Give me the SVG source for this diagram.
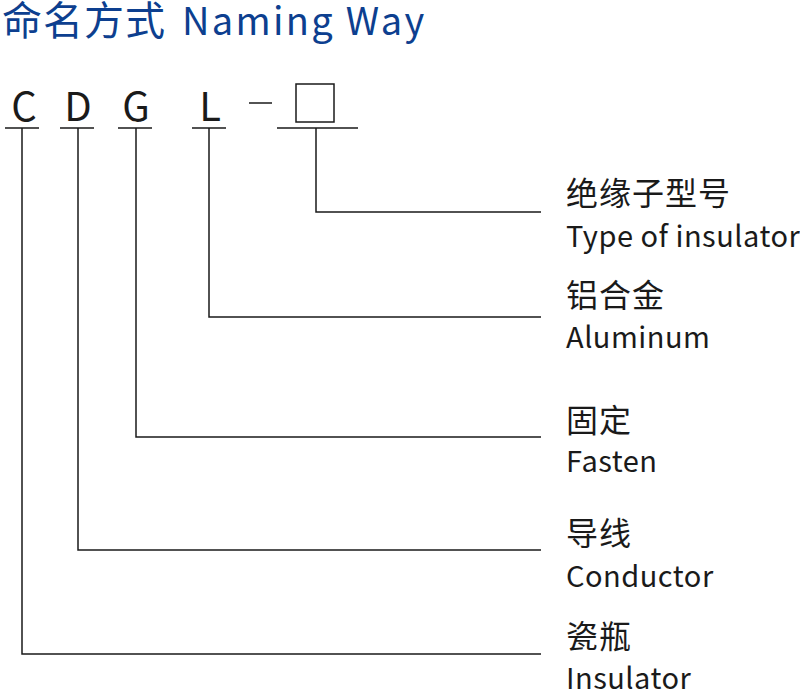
<svg xmlns="http://www.w3.org/2000/svg" width="800" height="690" viewBox="0 0 800 690">
<style>
.t{font-family:"Noto Sans CJK SC","Noto Sans",sans-serif;fill:#1a1a1a}
.title{font-family:"Noto Sans CJK SC","Noto Sans",sans-serif;fill:#0d3f8f}
.l{font-size:40px}
.zh{font-size:32px;letter-spacing:1px}
.en{font-size:29px;letter-spacing:0.5px}
.ln{stroke:#1a1a1a;stroke-width:1.5;fill:none}
</style>
<rect width="800" height="690" fill="#fff"/>
<text class="title" x="2" y="35"><tspan font-size="40" letter-spacing="1">命名方式</tspan><tspan x="182" font-size="38" letter-spacing="2.3">Naming Way</tspan></text>
<g id="code">
<text class="t l" x="24" y="121" text-anchor="middle">C</text>
<text class="t l" x="78" y="121" text-anchor="middle">D</text>
<text class="t l" x="136" y="121" text-anchor="middle">G</text>
<text class="t l" x="210" y="121" text-anchor="middle">L</text>
<line class="ln" x1="249" y1="103" x2="272" y2="103"/>
<rect class="ln" x="296" y="84" width="38" height="38"/>
</g>
<g id="connectors">
<path class="ln" d="M5 128H39M60 128H94M118 128H152M192 128H226M277 128H358"/>
<path class="ln" d="M316 128V212H541"/>
<path class="ln" d="M209 128V317H541"/>
<path class="ln" d="M136 128V437H541"/>
<path class="ln" d="M78 128V550H541"/>
<path class="ln" d="M22 128V654H541"/>
</g>
<g id="n-type">
<text class="t zh" x="566" y="205">绝缘子型号</text>
<text class="t en" x="566" y="247">Type of insulator</text>
</g>
<g id="n-al">
<text class="t zh" x="566" y="307">铝合金</text>
<text class="t en" x="566" y="348">Aluminum</text>
</g>
<g id="n-fasten">
<text class="t zh" x="566" y="432">固定</text>
<text class="t en" x="566" y="472">Fasten</text>
</g>
<g id="n-cond">
<text class="t zh" x="566" y="545">导线</text>
<text class="t en" x="566" y="587">Conductor</text>
</g>
<g id="n-ins">
<text class="t zh" x="566" y="648">瓷瓶</text>
<text class="t en" x="566" y="689">Insulator</text>
</g>
</svg>
